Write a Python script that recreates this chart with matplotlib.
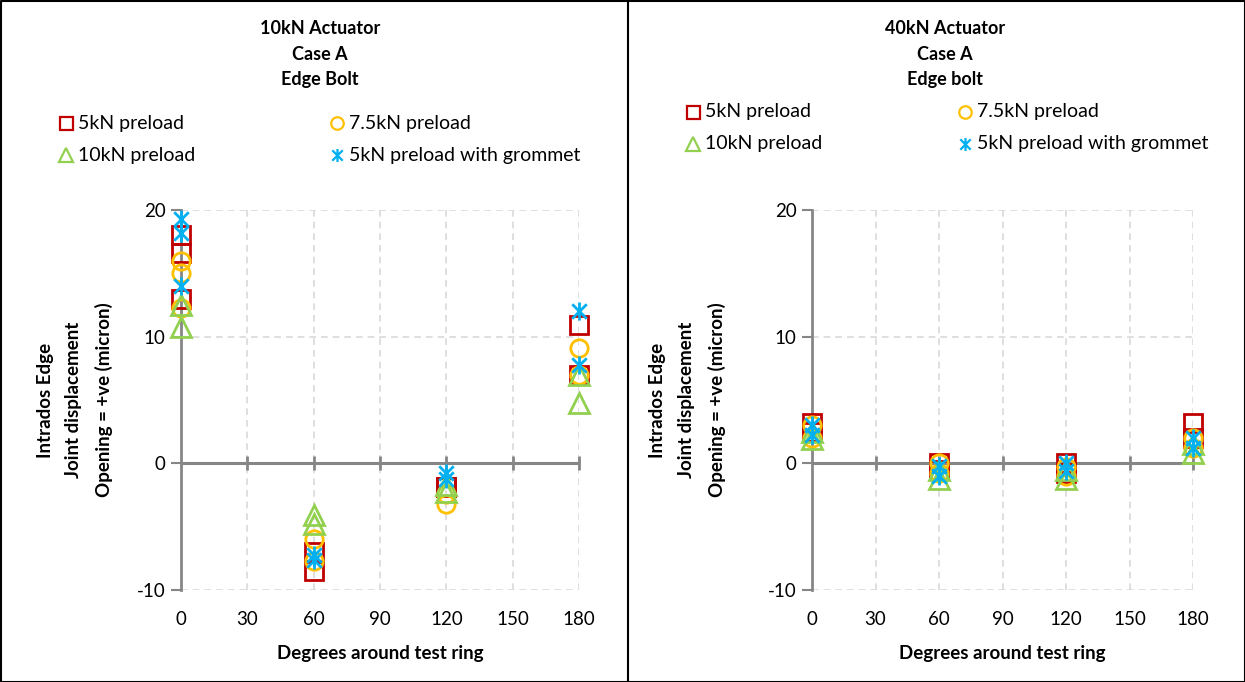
import matplotlib.pyplot as plt
from matplotlib.path import Path
from matplotlib.lines import Line2D
import numpy as np

plt.rcParams['font.family'] = ['Lato', 'DejaVu Sans']
plt.rcParams['axes.unicode_minus'] = False

# angles for the two readings at each position
ang = [0, 0, 60, 60, 120, 120, 180, 180]

# 10kN actuator, left panel
l_5kn = [18, 13, -7, -8.5, -1.9, -1.9, 10.9, 7.0]
l_75kn = [16, 15, -6, -7.7, -2.4, -3.2, 9.1, 7.0]
l_10kn = [12.5, 10.8, -4.1, -4.8, -1.7, -2.3, 7.0, 4.8]
l_grom = [19.3, 18.2, -7.2, -7.6, -0.8, -1.2, 12, 7.8]
l_5kn_extra = [16.6]
l_75kn_extra = [12.3]
l_grom_extra = [14]

# 40kN actuator, right panel
r_5kn = [3.2, 2.5, 0, -0.5, 0, -0.8, 3.2, 2.0]
r_75kn = [3.0, 2.0, 0, -0.8, -0.3, -1.0, 2.0, 1.2]
r_10kn = [2.5, 1.9, -0.5, -1.2, -0.5, -1.2, 1.5, 0.8]
r_grom = [3.0, 2.2, -0.2, -1.0, 0, -0.6, 2.0, 1.2]

names = ['5kN preload', '7.5kN preload', '10kN preload', '5kN preload with grommet']
cols = ['#C00000', '#FFC000', '#92D050', '#00B0F0']
star = Path([(-1, -1), (1, 1), (-1, 1), (1, -1), (0, -1.25), (0, 1.25)],
            [Path.MOVETO, Path.LINETO, Path.MOVETO, Path.LINETO, Path.MOVETO, Path.LINETO])
marks = ['s', 'o', '^', star]
msz = [13, 12.5, 14, 13]

W, H = 1245, 682
fig = plt.figure(figsize=(W / 100, H / 100), dpi=100)

def px(x0, y0, x1, y1):
    return [x0 / W, 1 - y1 / H, (x1 - x0) / W, (y1 - y0) / H]

def setup(ax, labx):
    ax.set_xlim(0, 180)
    ax.set_ylim(-10, 20)
    ax.set_xticks(range(0, 181, 30))
    ax.set_yticks([-10, 0, 10, 20])
    for s in ['top', 'right', 'bottom']:
        ax.spines[s].set_visible(False)
    ax.spines['left'].set_color('#868686')
    ax.spines['left'].set_linewidth(2)
    ax.grid(True, color='#D9D9D9', linestyle=(0, (4, 3)), linewidth=1.2)
    ax.set_axisbelow(True)
    ax.axhline(0, color='#868686', lw=2.2, zorder=2)
    ax.plot(range(30, 181, 30), [0] * 6, linestyle='none', marker='|', ms=10,
            mew=2, color='#868686', zorder=2, clip_on=False)
    ax.tick_params(axis='x', length=0, labelsize=13.5, pad=15)
    ax.tick_params(axis='y', length=7, width=1.5, color='#868686', labelsize=13.5, pad=4)
    ax.set_xlabel('Degrees around test ring', fontsize=13.5, fontweight='bold', labelpad=12)
    ax.set_ylabel('Intrados Edge\nJoint displacement\nOpening = +ve (micron)',
                  fontsize=13.5, fontweight='bold', linespacing=1.85)
    ax.yaxis.set_label_coords(labx, 0.5)

def draw(ax, series, extras):
    for i, ys in enumerate(series):
        xs = list(ang) + [0] * len(extras[i])
        yy = list(ys) + list(extras[i])
        ax.plot(xs, yy, linestyle='none', marker=marks[i], ms=msz[i],
                mfc='none', mec=cols[i], mew=2, zorder=3 + i, clip_on=False)

ax1 = fig.add_axes(px(181, 210, 579, 590))
setup(ax1, -0.17)
draw(ax1, [l_5kn, l_75kn, l_10kn, l_grom], [l_5kn_extra, l_75kn_extra, [], l_grom_extra])

ax2 = fig.add_axes(px(812, 210, 1193, 590))
setup(ax2, -0.225)
draw(ax2, [r_5kn, r_75kn, r_10kn, r_grom], [[], [], [], []])

fig.text(320 / W, 1 - 54 / H, '10kN Actuator\nCase A\nEdge Bolt', ha='center', va='center',
         fontsize=13, fontweight='bold', linespacing=1.6)
fig.text(945 / W, 1 - 54 / H, '40kN Actuator\nCase A\nEdge bolt', ha='center', va='center',
         fontsize=13, fontweight='bold', linespacing=1.6)

def legend(x, y, colx):
    rows = [(0, 1), (2, 3)]
    for r, pair in enumerate(rows):
        for c, k in enumerate(pair):
            xx = x if c == 0 else colx
            yy = y + r * 32
            fig.add_artist(Line2D([xx / W], [1 - yy / H], linestyle='none', marker=marks[k],
                                  ms=msz[k] * 0.72, mfc='none', mec=cols[k], mew=1.6))
            fig.text((xx + 12) / W, 1 - yy / H, names[k], ha='left', va='center', fontsize=14)

legend(66, 123, 337)
legend(693, 112, 965)

# panel borders
fig.add_artist(Line2D([0.5 / W, 0.5 / W, 1 - 0.5 / W, 1 - 0.5 / W, 0.5 / W],
                      [0.5 / H, 1 - 0.5 / H, 1 - 0.5 / H, 0.5 / H, 0.5 / H], color='black', lw=1.5))
fig.add_artist(Line2D([628 / W, 628 / W], [0, 1], color='black', lw=1.5))

fig.savefig('out.png', dpi=100)
